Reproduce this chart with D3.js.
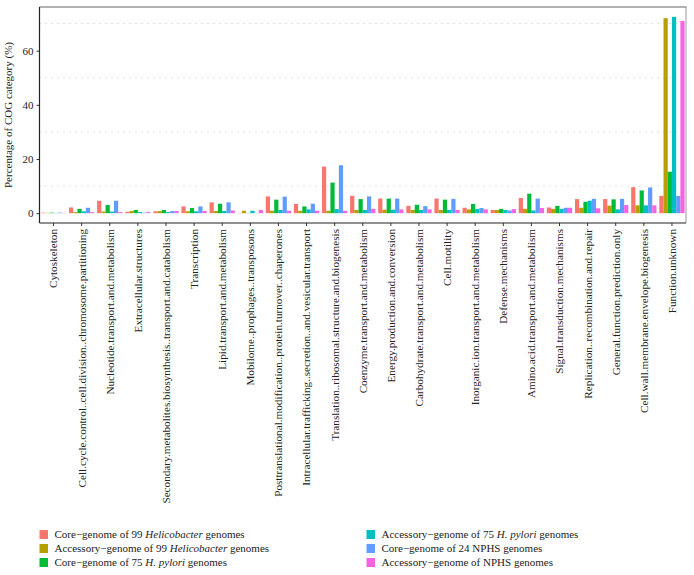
<!DOCTYPE html>
<html><head><meta charset="utf-8">
<script src="https://cdn.jsdelivr.net/npm/d3@7"></script>
<style>body{margin:0;background:#fff}svg{display:block}text{font-family:"Liberation Serif","DejaVu Serif",serif}</style>
</head><body><svg id="c" width="694" height="575"></svg>
<script>
const categories = ["Cytoskeleton","Cell.cycle.control..cell.division..chromosome.partitioning","Nucleotide.transport.and.metabolism","Extracellular.structures","Secondary.metabolites.biosynthesis..transport.and.catabolism","Transcription","Lipid.transport.and.metabolism","Mobilome..prophages..transposons","Posttranslational.modification..protein.turnover..chaperones","Intracellular.trafficking..secretion..and.vesicular.transport","Translation..ribosomal.structure.and.biogenesis","Coenzyme.transport.and.metabolism","Energy.production.and.conversion","Carbohydrate.transport.and.metabolism","Cell.motility","Inorganic.ion.transport.and.metabolism","Defense.mechanisms","Amino.acid.transport.and.metabolism","Signal.transduction.mechanisms","Replication..recombination.and.repair","General.function.prediction.only","Cell.wall.membrane.envelope.biogenesis","Function.unknown"];
const core99    = [0.2,2.1,4.6,0.5,0.7,2.5,4.0,0.1,6.2,3.4,17.2,6.4,5.4,2.7,5.4,2.0,1.2,5.6,2.1,5.2,5.2,9.6,6.4];
const acc99     = [0.1,0.4,0.6,0.8,0.8,0.7,0.8,0.9,0.9,0.9,0.9,1.2,1.3,1.2,1.2,1.4,1.2,1.6,1.6,2.0,2.8,2.9,72.0];
const core75    = [0.2,1.6,3.0,1.2,1.2,1.9,3.5,0.1,5.0,2.5,11.3,5.2,5.4,3.1,5.0,3.4,1.6,7.2,2.7,4.2,5.1,8.4,15.3];
const acc75     = [0.1,0.7,0.6,0.4,0.4,0.7,0.8,0.9,1.2,1.4,1.5,1.2,1.3,1.2,1.2,1.6,1.2,1.0,1.6,4.6,1.4,2.9,72.5];
const core24    = [0.2,2.0,4.6,0.2,0.8,2.5,4.0,0.1,6.1,3.5,17.7,6.2,5.4,2.6,5.3,1.9,1.0,5.4,2.0,5.3,5.3,9.5,6.4];
const accNPHS   = [0.1,0.4,0.4,0.4,0.8,0.8,1.0,1.2,0.9,0.9,0.9,1.6,1.4,1.4,1.2,1.4,1.5,1.9,2.0,1.8,3.0,2.9,71.0];
const yTicks = [0,20,40,60];
const gridVals = [10,30,50,70];
const seriesNames = [
  ["Core\u2212genome of 99 ", "Helicobacter", " genomes"],
  ["Accessory\u2212genome of 99 ", "Helicobacter", " genomes"],
  ["Core\u2212genome of 75 ", "H. pylori", " genomes"],
  ["Accessory\u2212genome of 75 ", "H. pylori", " genomes"],
  ["Core\u2212genome of 24 NPHS genomes", "", ""],
  ["Accessory\u2212genome of NPHS genomes", "", ""]
];
const colors = ["#F8766D","#B79F00","#00BA38","#00BFC4","#619CFF","#F564E3"];
const series = [core99, acc99, core75, acc75, core24, accNPHS];

const svg = d3.select("#c");
const L = 39.5, R = 686, T = 7, B = 223;
const FS = 11.2;
const maxV = d3.max(series.flat());
const y = d3.scaleLinear().domain([-0.05*maxV, maxV*1.05]).range([B, T]);
const x = d3.scaleBand().domain(categories).range([L, R]).padding(0);
const dodgeW = x.bandwidth()*0.9;
const xs = d3.scaleBand().domain(d3.range(series.length)).range([0, dodgeW]);

// grid
svg.append("g").selectAll("line").data(gridVals).join("line")
  .attr("x1", L).attr("x2", R).attr("y1", d=>y(d)).attr("y2", d=>y(d))
  .attr("stroke", "#b5b5b5").attr("stroke-width", 0.9).attr("stroke-dasharray", "1,5");

// bars
const g = svg.append("g");
series.forEach((s, si) => {
  g.selectAll(null).data(s).join("rect")
    .attr("x", (d,i) => x(categories[i]) + (x.bandwidth()-dodgeW)/2 + xs(si))
    .attr("width", xs.bandwidth())
    .attr("y", d => y(Math.max(0,d)))
    .attr("height", d => Math.abs(y(0)-y(d)))
    .attr("fill", colors[si]);
});

// panel border
svg.append("line").attr("x1", L).attr("x2", R+0.5).attr("y1", T).attr("y2", T).attr("stroke", "#999").attr("stroke-width", 1.5);
svg.append("line").attr("x1", R).attr("x2", R).attr("y1", T).attr("y2", B).attr("stroke", "#999").attr("stroke-width", 1);

// axes
const yAxis = d3.axisLeft(y).tickValues(yTicks).tickSize(3).tickPadding(3);
const ya = svg.append("g").attr("transform", `translate(${L},0)`).call(yAxis);
ya.select(".domain").remove();
ya.selectAll("text").attr("font-size", 11).attr("fill", "#222").style("font-family", "'Liberation Serif',serif");
ya.selectAll("line").attr("stroke", "#333");
svg.append("line").attr("x1", L).attr("x2", L).attr("y1", T).attr("y2", B).attr("stroke", "#222").attr("stroke-width", 1.2);

const xAxis = d3.axisBottom(x).tickSize(3).tickPadding(3);
const xa = svg.append("g").attr("transform", `translate(0,${B})`).call(xAxis);
xa.select(".domain").remove();
xa.selectAll("line").attr("stroke", "#333");
xa.selectAll("text")
  .attr("font-size", FS).attr("fill", "#222").style("font-family", "'Liberation Serif',serif")
  .attr("transform", "rotate(-90)")
  .attr("text-anchor", "end")
  .attr("x", -6).attr("y", 0).attr("dy", "0.35em");
svg.append("line").attr("x1", L).attr("x2", R).attr("y1", B).attr("y2", B).attr("stroke", "#222").attr("stroke-width", 1.2);

// y title
svg.append("text").attr("transform", `translate(12,${(T+B)/2}) rotate(-90)`)
  .attr("text-anchor", "middle").attr("font-size", 11).attr("fill", "#222")
  .text("Percentage of COG category (%)");

// legend
const leg = svg.append("g");
seriesNames.forEach((n, i) => {
  const col = Math.floor(i/3), row = i%3;
  const lx = col === 0 ? 39.5 : 366.5;
  const ly = 534.5 + row*14;
  leg.append("rect").attr("x", lx).attr("y", ly-4.5).attr("width", 8.5).attr("height", 9).attr("fill", colors[i]);
  const t = leg.append("text").attr("x", lx+15).attr("y", ly).attr("dy", "0.35em").attr("font-size", 11).attr("fill", "#222");
  t.append("tspan").text(n[0]);
  if (n[1]) t.append("tspan").attr("font-style", "italic").text(n[1]);
  if (n[2]) t.append("tspan").text(n[2]);
});
</script></body></html>
